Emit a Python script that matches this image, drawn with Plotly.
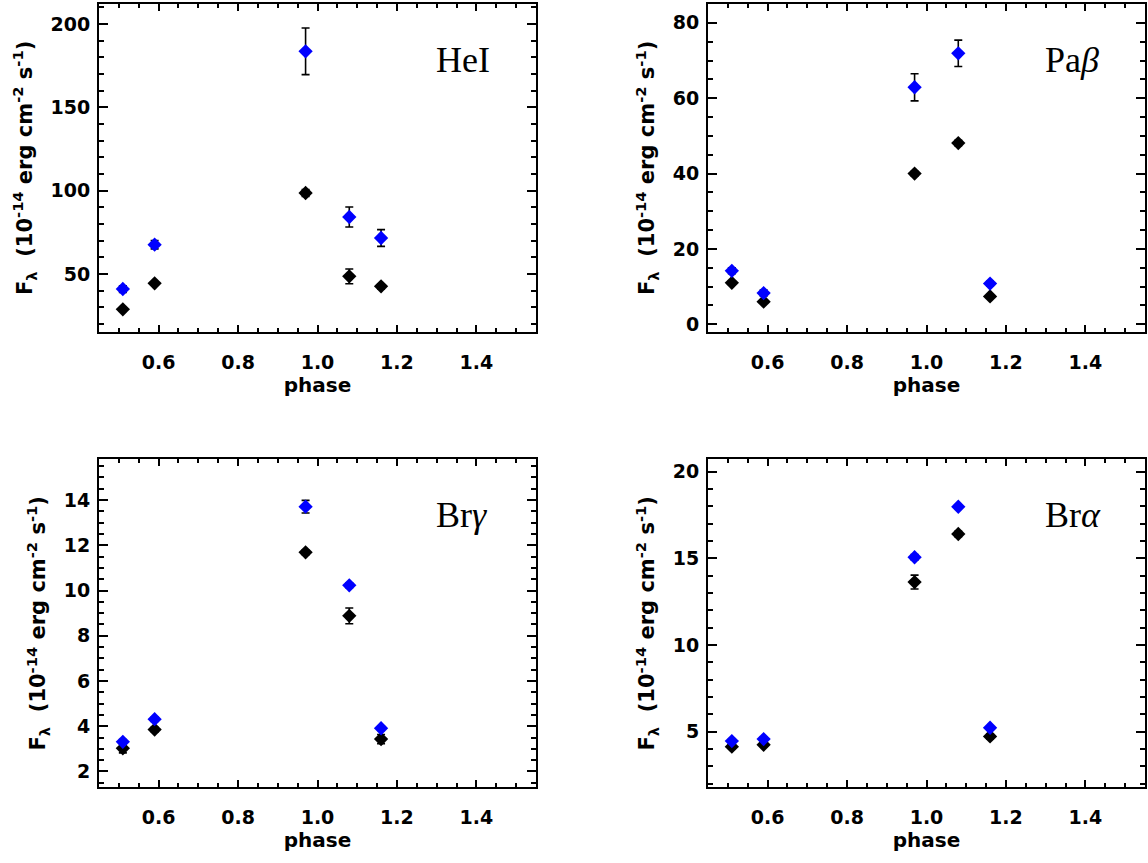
import plotly.graph_objects as go

phase = [0.51, 0.59, 0.97, 1.08, 1.16]

hei_blue = [41.0, 67.6, 183.6, 84.2, 71.6]
hei_blue_err = [2.0, 2.5, 14.0, 6.0, 5.0]
hei_black = [28.8, 44.4, 98.6, 48.6, 42.6]
hei_black_err = [1.0, 1.0, 2.0, 4.4, 1.5]

pab_blue = [14.2, 8.3, 62.9, 71.9, 10.8]
pab_blue_err = [0.8, 0.8, 3.6, 3.5, 0.6]
pab_black = [11.0, 6.0, 40.0, 48.1, 7.4]
pab_black_err = [0.5, 0.4, 0.6, 0.7, 0.5]

brg_blue = [3.31, 4.31, 13.71, 10.23, 3.91]
brg_blue_err = [0.1, 0.1, 0.28, 0.1, 0.1]
brg_black = [3.02, 3.85, 11.69, 8.88, 3.43]
brg_black_err = [0.2, 0.1, 0.1, 0.35, 0.2]

bra_blue = [4.46, 4.58, 15.06, 17.97, 5.23]
bra_blue_err = [0.1, 0.1, 0.15, 0.1, 0.1]
bra_black = [4.14, 4.25, 13.63, 16.40, 4.73]
bra_black_err = [0.1, 0.1, 0.4, 0.15, 0.15]

panel_labels = ["HeI", "Pa<i>β</i>", "Br<i>γ</i>", "Br<i>α</i>"]
y_ranges = [[15.3, 212], [-2.0, 85], [1.3, 15.8], [1.8, 20.7]]
y_dticks = [50, 20, 2, 5]
y_minor = [10, 5, 0.5, 1]

panels = [
    (hei_black, hei_black_err, hei_blue, hei_blue_err),
    (pab_black, pab_black_err, pab_blue, pab_blue_err),
    (brg_black, brg_black_err, brg_blue, brg_blue_err),
    (bra_black, bra_black_err, bra_blue, bra_blue_err),
]

W, H = 1148, 863
xdoms = [[99 / W, 536 / W], [708 / W, 1145 / W]]
ydoms = [[1 - 333 / H, 1 - 4 / H], [1 - 790 / H, 1 - 461 / H]]

fig = go.Figure()
tickfont = dict(family="DejaVu Sans", size=19, color="black", weight="bold")
ytitle = "F<sub>λ</sub>  (10<sup>-14</sup> erg cm<sup>-2</sup> s<sup>-1</sup>)"

for i, (blk, blk_e, blu, blu_e) in enumerate(panels):
    n = "" if i == 0 else str(i + 1)
    xa, ya = "x" + n, "y" + n
    fig.add_trace(go.Scatter(
        x=phase, y=blk, mode="markers", xaxis=xa, yaxis=ya,
        marker=dict(symbol="diamond", size=11, color="black"),
        error_y=dict(type="data", array=blk_e, color="black", thickness=1.6, width=4),
        showlegend=False))
    fig.add_trace(go.Scatter(
        x=phase, y=blu, mode="markers", xaxis=xa, yaxis=ya,
        marker=dict(symbol="diamond", size=11, color="#0000ff"),
        error_y=dict(type="data", array=blu_e, color="black", thickness=1.6, width=4),
        showlegend=False))
    col, row = i % 2, i // 2
    common = dict(showline=True, linewidth=2, linecolor="black", mirror="allticks",
                  ticks="inside", tickwidth=2, tickcolor="black", showgrid=False,
                  zeroline=False, tickfont=tickfont)
    fig.layout["xaxis" + n] = dict(
        domain=xdoms[col], anchor=ya, range=[0.45, 1.55], dtick=0.2, tick0=0,
        tickformat=".1f", ticklen=7, ticklabelstandoff=12,
        minor=dict(dtick=0.05, tick0=0, ticks="inside", ticklen=4, tickwidth=2, tickcolor="black"),
        title=dict(text="phase", font=dict(family="DejaVu Sans", size=20, color="black", weight="bold"), standoff=6),
        **common)
    fig.layout["yaxis" + n] = dict(
        domain=ydoms[row], anchor=xa, range=y_ranges[i], dtick=y_dticks[i], tick0=0,
        ticklen=9, ticklabelstandoff=3,
        minor=dict(dtick=y_minor[i], tick0=0, ticks="inside", ticklen=5, tickwidth=2, tickcolor="black"),
        title=dict(text=ytitle, font=dict(family="DejaVu Sans", size=21, color="black", weight="bold"), standoff=12),
        **common)
    fig.add_annotation(
        text=panel_labels[i], xref=xa + " domain", yref=ya + " domain",
        x=0.767, y=0.83, xanchor="left", yanchor="middle", showarrow=False,
        font=dict(family="Liberation Serif", size=36, color="black"))

fig.update_layout(width=W, height=H, margin=dict(l=0, r=0, t=0, b=0),
                  paper_bgcolor="white", plot_bgcolor="white")
fig.write_html("out.html", config={"displayModeBar": False},
               post_script="document.body.style.margin='0';")
